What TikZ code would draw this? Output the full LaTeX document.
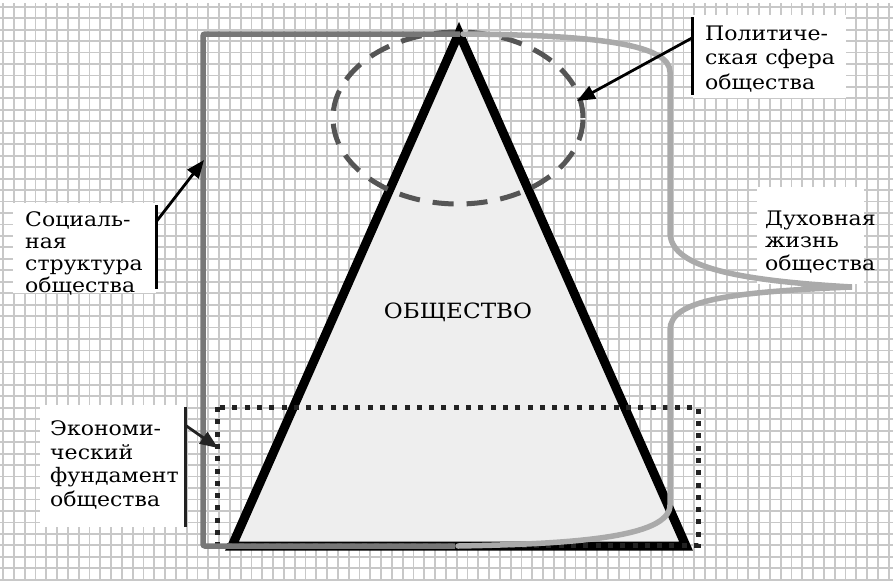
\documentclass[tikz,border=0pt]{standalone}
\usepackage{fontspec}
\setmainfont[FakeStretch=1.1]{DejaVu Serif}
\usetikzlibrary{arrows.meta,shapes.geometric}

\definecolor{gridgray}{HTML}{C8C8C8}
\definecolor{conefill}{HTML}{EEEEEE}
\definecolor{socgray}{HTML}{777777}
\definecolor{spirgray}{HTML}{AAAAAA}
\definecolor{polgray}{HTML}{555555}
\definecolor{ecodark}{HTML}{222222}

\tikzset{
  gridline/.style={gridgray, line width=1.8pt},
  whitebox/.style={fill=white, draw=none},
  labeltext/.style={anchor=north west, inner sep=0pt, align=left, font=\fontsize{20}{24}\selectfont},
  labelbar/.style={black, line width=3pt},
  pointer/.style={black, line width=2.8pt, -{Triangle[length=18pt,width=14pt]}},
  cone/.style={fill=conefill, draw=black, line width=9pt, line join=miter},
  social/.style={socgray, line width=5.5pt, rounded corners=2pt},
  spirit/.style={spirgray, line width=5.5pt, line cap=round},
  polit/.style={draw=polgray, line width=5pt, dash pattern=on 21pt off 13pt},
  econ/.style={draw=ecodark, line width=5pt, dash pattern=on 5pt off 7.3pt}
}

\begin{document}
\begin{tikzpicture}[x=1pt, y=-1pt]
  \useasboundingbox (0,0) rectangle (893,581);
  \fill[white] (0,0) rectangle (893,581);

  % squared paper
  \foreach \i in {0,...,82}
    \draw[gridline] ({3+10.8*\i},3) -- ({3+10.8*\i},581);
  \foreach \j in {0,...,50}
    \draw[gridline] (0,{6.7+11.46*\j}) -- (893,{6.7+11.46*\j});

  % white fields under the captions
  \fill[whitebox] (693,15) rectangle (846,98);
  \fill[whitebox] (13,203) rectangle (156,293);
  \fill[whitebox] (757,187) rectangle (864,284);
  \fill[whitebox] (40,405) rectangle (185,527);

  % the cone of society
  \coordinate (apex) at (459,33);
  \coordinate (bl) at (232,546);
  \coordinate (br) at (686,546);
  \draw[cone] (apex) -- (br) -- (bl) -- cycle;
  \node[font=\fontsize{21}{24}\selectfont] (society) at (458,312) {ОБЩЕСТВО};

  % political sphere
  \node[ellipse, polit, minimum width=250pt, minimum height=172pt, inner sep=0pt] (polsphere) at (458,118) {};

  % economic foundation
  \draw[econ] (217,407) rectangle (698,545);

  % social structure bracket
  \coordinate (soctop) at (460,34);
  \coordinate (socbot) at (455,546);
  \draw[social] (soctop) -- (203,34) -- (203,546) -- (socbot);

  % spiritual life brace
  \coordinate (spirtop) at (463,34);
  \coordinate (spirtip) at (852,287);
  \coordinate (spirbot) at (458,546);
  \draw[spirit] (spirtop) .. controls (600,35) and (670,45) .. (670,72)
    -- (670,232) .. controls (670,266) and (730,280) .. (spirtip)
    .. controls (730,292) and (670,300) .. (670,330)
    -- (670,505) .. controls (670,538) and (570,544) .. (spirbot);

  % captions
  \node[labeltext, font=\fontsize{20}{24.6}\selectfont] (poltext) at (705,25.5) {Политиче-\\ская сфера\\общества};
  \node[labeltext, font=\fontsize{20}{22.3}\selectfont] (soctext) at (25,211) {Социаль-\\ная\\структура\\общества};
  \node[labeltext, font=\fontsize{20}{23.7}\selectfont] (ecotext) at (50,420.5) {Экономи-\\ческий\\фундамент\\общества};
  \node[labeltext, font=\fontsize{20}{22.5}\selectfont] (spirtext) at (765,210.5) {Духовная\\жизнь\\общества};

  % caption bars and pointers
  \draw[labelbar] (692,17) -- (692,95);
  \coordinate (polfrom) at (692,38);
  \coordinate (polto) at (577,101);
  \draw[pointer] (polfrom) -- (polto);

  \draw[labelbar] (156,205) -- (156,289);
  \coordinate (socfrom) at (156,222);
  \coordinate (socto) at (204,160);
  \draw[pointer] (socfrom) -- (socto);

  \draw[labelbar, ecodark] (185,407) -- (185,527);
  \coordinate (ecofrom) at (185,425);
  \coordinate (ecoto) at (218,448);
  \draw[pointer, ecodark] (ecofrom) -- (ecoto);
\end{tikzpicture}
\end{document}
